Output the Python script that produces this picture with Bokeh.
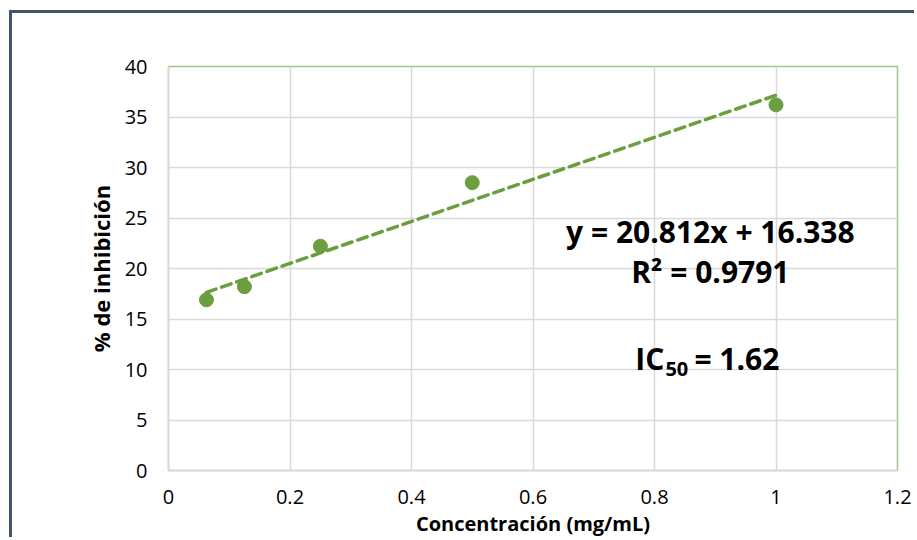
from bokeh.plotting import figure
from bokeh.models import ColumnDataSource, Range1d, FixedTicker, Label
from bokeh.embed import file_html
from bokeh.resources import INLINE
import numpy as np

# ---- data ----
conc = [0.0625, 0.125, 0.25, 0.5, 1.0]
inhib = [16.9, 18.2, 22.2, 28.5, 36.2]
slope = 20.812
intercept = 16.338
x_ticks = [0, 0.2, 0.4, 0.6, 0.8, 1.0, 1.2]
x_tick_labels = ["0", "0.2", "0.4", "0.6", "0.8", "1", "1.2"]
y_ticks = [0, 5, 10, 15, 20, 25, 30, 35, 40]
eq_text = "y = 20.812x + 16.338"
r2_text = "R\u00b2 = 0.9791"
ic_main, ic_sub, ic_val = "IC", "50", "= 1.62"

GREEN = "#6A9E3F"
GRID = "#D9D9D9"
FONT = "Open Sans"

p = figure(width=905, height=527, output_backend="svg", toolbar_location=None,
           x_range=Range1d(0, 1.2), y_range=Range1d(0, 40),
           min_border_left=156, min_border_right=20, min_border_top=53, min_border_bottom=70)
p.margin = (10, 0, 0, 9)
p.styles = {"border-left": "3px solid #44546A", "border-top": "3px solid #44546A"}

p.outline_line_color = "#A3C48A"
p.outline_line_width = 1.5
p.background_fill_color = "white"
p.border_fill_color = "white"

p.xgrid.grid_line_color = GRID
p.ygrid.grid_line_color = GRID
p.xgrid.grid_line_width = 1.5
p.ygrid.grid_line_width = 1.5

p.xaxis.ticker = FixedTicker(ticks=x_ticks)
p.xaxis.major_label_overrides = {t: l for t, l in zip(x_ticks, x_tick_labels)}
p.yaxis.ticker = FixedTicker(ticks=y_ticks)

for ax in (p.xaxis[0], p.yaxis[0]):
    ax.axis_line_color = GRID
    ax.axis_line_width = 1.5
    ax.major_tick_line_color = None
    ax.minor_tick_line_color = None
    ax.major_tick_out = 0
    ax.major_label_text_font = FONT
    ax.major_label_text_font_size = "20px"
    ax.major_label_text_color = "black"
    ax.axis_label_text_font = FONT
    ax.axis_label_text_font_style = "bold"
    ax.axis_label_text_color = "black"

p.xaxis.axis_label = "Concentración (mg/mL)"
p.yaxis.axis_label = "% de inhibición"
p.xaxis.axis_label_text_font_size = "20px"
p.yaxis.axis_label_text_font_size = "22px"
p.xaxis.major_label_standoff = 19
p.yaxis.major_label_standoff = 21
p.xaxis.axis_label_standoff = 3
p.yaxis.axis_label_standoff = 6

# trendline
tx = np.array([conc[0], conc[-1]])
trend = ColumnDataSource(dict(x=tx, y=slope * tx + intercept))
p.line("x", "y", source=trend, line_color=GREEN, line_width=3.5,
       line_dash="10 6", line_cap="round")

src = ColumnDataSource(dict(x=conc, y=inhib))
p.scatter("x", "y", source=src, size=14, fill_color=GREEN, line_color=GREEN)

xc = 0.892
common = dict(text_font=FONT, text_font_style="bold", text_color="black",
              text_baseline="alphabetic")
p.add_layout(Label(x=xc, y=23.65, text=eq_text, text_align="center",
                   text_font_size="30px", **common))
p.add_layout(Label(x=xc, y=19.75, text=r2_text, text_align="center",
                   text_font_size="30px", **common))
p.add_layout(Label(x=xc, y=11.05, x_offset=-46, text=ic_main, text_align="right",
                   text_font_size="30px", **common))
p.add_layout(Label(x=xc, y=11.05, x_offset=-45, y_offset=-10, text=ic_sub, text_align="left",
                   text_font_size="20px", **common))
p.add_layout(Label(x=xc, y=11.05, x_offset=-16, text=ic_val, text_align="left",
                   text_font_size="30px", **common))

open("out.html", "w").write(file_html(p, INLINE))
